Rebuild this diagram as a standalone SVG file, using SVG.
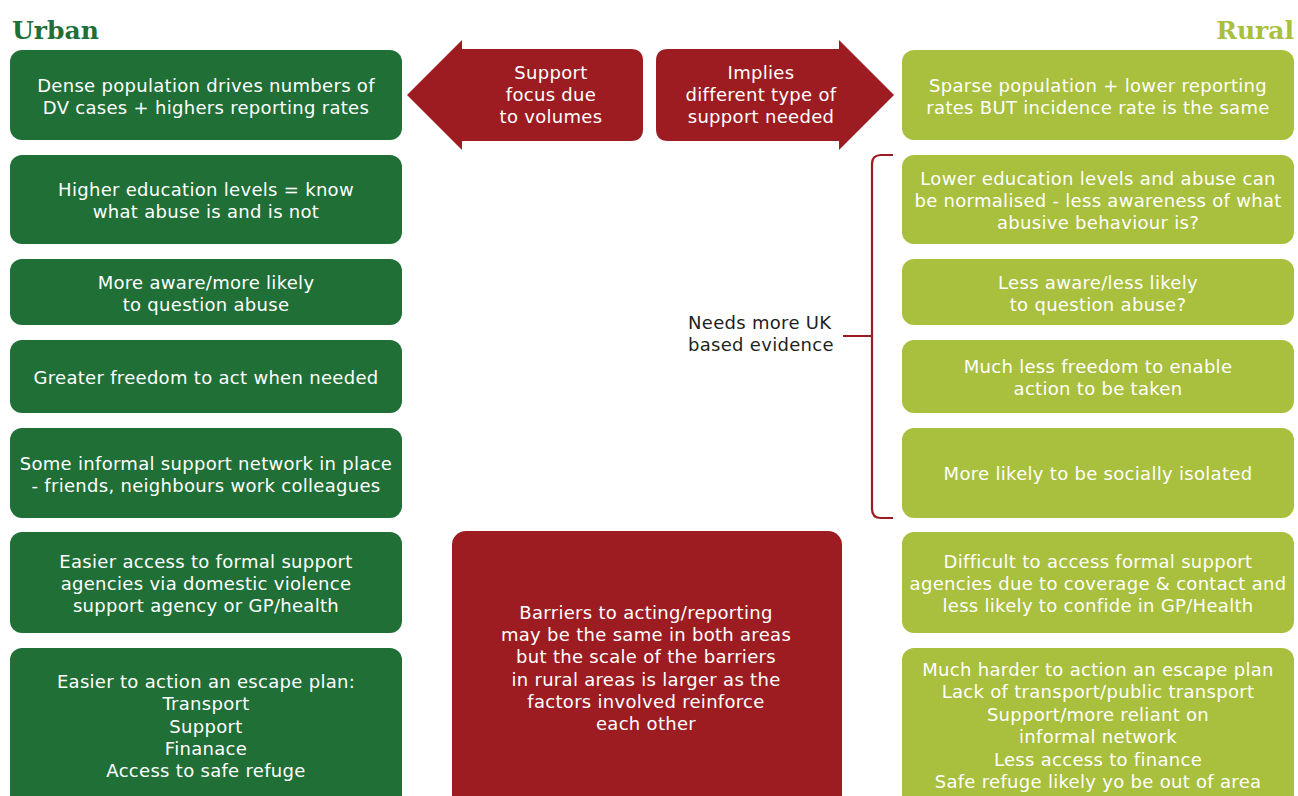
<svg xmlns="http://www.w3.org/2000/svg" width="1298" height="796" viewBox="0 0 1298 796">
<style>
.u{fill:#1f6f37}
.r{fill:#a9bf3e}
.red{fill:#9c1c21}
.t{font-family:"DejaVu Sans","Liberation Sans",sans-serif;font-size:18px;letter-spacing:0.3px;fill:#ffffff;text-anchor:middle}
.d{font-family:"DejaVu Sans","Liberation Sans",sans-serif;font-size:18px;letter-spacing:0.3px;fill:#231f20}
.h{font-family:"DejaVu Serif","Liberation Serif",serif;font-weight:bold;font-size:25px}
</style>
<rect width="1298" height="796" fill="#ffffff"/>
<text class="h" x="12" y="39" fill="#1f6f37">Urban</text>
<text class="h" x="1294" y="39" fill="#a9bf3e" text-anchor="end">Rural</text>

<g id="u1"><rect class="u" x="10" y="50" width="392" height="90" rx="12"/><text class="t"><tspan x="206" y="92">Dense population drives numbers of</tspan><tspan x="206" y="114">DV cases + highers reporting rates</tspan></text></g>
<g id="u2"><rect class="u" x="10" y="155" width="392" height="89" rx="12"/><text class="t"><tspan x="206" y="196">Higher education levels = know</tspan><tspan x="206" y="218">what abuse is and is not</tspan></text></g>
<g id="u3"><rect class="u" x="10" y="259" width="392" height="66" rx="12"/><text class="t"><tspan x="206" y="289">More aware/more likely</tspan><tspan x="206" y="311">to question abuse</tspan></text></g>
<g id="u4"><rect class="u" x="10" y="340" width="392" height="73" rx="12"/><text class="t"><tspan x="206" y="384">Greater freedom to act when needed</tspan></text></g>
<g id="u5"><rect class="u" x="10" y="428" width="392" height="90" rx="12"/><text class="t"><tspan x="206" y="470">Some informal support network in place</tspan><tspan x="206" y="492">- friends, neighbours work colleagues</tspan></text></g>
<g id="u6"><rect class="u" x="10" y="532" width="392" height="101" rx="12"/><text class="t"><tspan x="206" y="568">Easier access to formal support</tspan><tspan x="206" y="590">agencies via domestic violence</tspan><tspan x="206" y="612">support agency or GP/health</tspan></text></g>
<g id="u7"><rect class="u" x="10" y="648" width="392" height="162" rx="12"/><text class="t"><tspan x="206" y="688">Easier to action an escape plan:</tspan><tspan x="206" y="710">Transport</tspan><tspan x="206" y="733">Support</tspan><tspan x="206" y="755">Finanace</tspan><tspan x="206" y="777">Access to safe refuge</tspan></text></g>

<g id="r1"><rect class="r" x="902" y="50" width="392" height="90" rx="12"/><text class="t"><tspan x="1098" y="92">Sparse population + lower reporting</tspan><tspan x="1098" y="114">rates BUT incidence rate is the same</tspan></text></g>
<g id="r2"><rect class="r" x="902" y="155" width="392" height="89" rx="12"/><text class="t"><tspan x="1098" y="185">Lower education levels and abuse can</tspan><tspan x="1098" y="207">be normalised - less awareness of what</tspan><tspan x="1098" y="229">abusive behaviour is?</tspan></text></g>
<g id="r3"><rect class="r" x="902" y="259" width="392" height="66" rx="12"/><text class="t"><tspan x="1098" y="289">Less aware/less likely</tspan><tspan x="1098" y="311">to question abuse?</tspan></text></g>
<g id="r4"><rect class="r" x="902" y="340" width="392" height="73" rx="12"/><text class="t"><tspan x="1098" y="373">Much less freedom to enable</tspan><tspan x="1098" y="395">action to be taken</tspan></text></g>
<g id="r5"><rect class="r" x="902" y="428" width="392" height="90" rx="12"/><text class="t"><tspan x="1098" y="480">More likely to be socially isolated</tspan></text></g>
<g id="r6"><rect class="r" x="902" y="532" width="392" height="101" rx="12"/><text class="t"><tspan x="1098" y="568">Difficult to access formal support</tspan><tspan x="1098" y="590">agencies due to coverage &amp; contact and</tspan><tspan x="1098" y="612">less likely to confide in GP/Health</tspan></text></g>
<g id="r7"><rect class="r" x="902" y="648" width="392" height="162" rx="12"/><text class="t"><tspan x="1098" y="676">Much harder to action an escape plan</tspan><tspan x="1098" y="698">Lack of transport/public transport</tspan><tspan x="1098" y="721">Support/more reliant on</tspan><tspan x="1098" y="743">informal network</tspan><tspan x="1098" y="766">Less access to finance</tspan><tspan x="1098" y="788">Safe refuge likely yo be out of area</tspan></text></g>

<g id="arrowLeft"><path class="red" d="M407,95 L462,40 L462,49 L631,49 Q643,49 643,61 L643,129 Q643,141 631,141 L462,141 L462,150 Z"/><text class="t"><tspan x="551" y="79">Support</tspan><tspan x="551" y="101">focus due</tspan><tspan x="551" y="123">to volumes</tspan></text></g>
<g id="arrowRight"><path class="red" d="M894,95 L839,40 L839,49 L668,49 Q656,49 656,61 L656,129 Q656,141 668,141 L839,141 L839,150 Z"/><text class="t"><tspan x="761" y="79">Implies</tspan><tspan x="761" y="101">different type of</tspan><tspan x="761" y="123">support needed</tspan></text></g>

<g id="center"><rect class="red" x="452" y="531" width="390" height="280" rx="14"/><text class="t"><tspan x="646" y="619">Barriers to acting/reporting</tspan><tspan x="646" y="641">may be the same in both areas</tspan><tspan x="646" y="663">but the scale of the barriers</tspan><tspan x="646" y="686">in rural areas is larger as the</tspan><tspan x="646" y="708">factors involved reinforce</tspan><tspan x="646" y="730">each other</tspan></text></g>

<g id="connectors"><path d="M893,155 L881,155 Q872,155 872,164 L872,509 Q872,518 881,518 L893,518 M843,336 L872,336" fill="none" stroke="#9c1c21" stroke-width="2.2"/></g>
<g id="note"><text class="d"><tspan x="688" y="329">Needs more UK</tspan><tspan x="688" y="351">based evidence</tspan></text></g>
</svg>
